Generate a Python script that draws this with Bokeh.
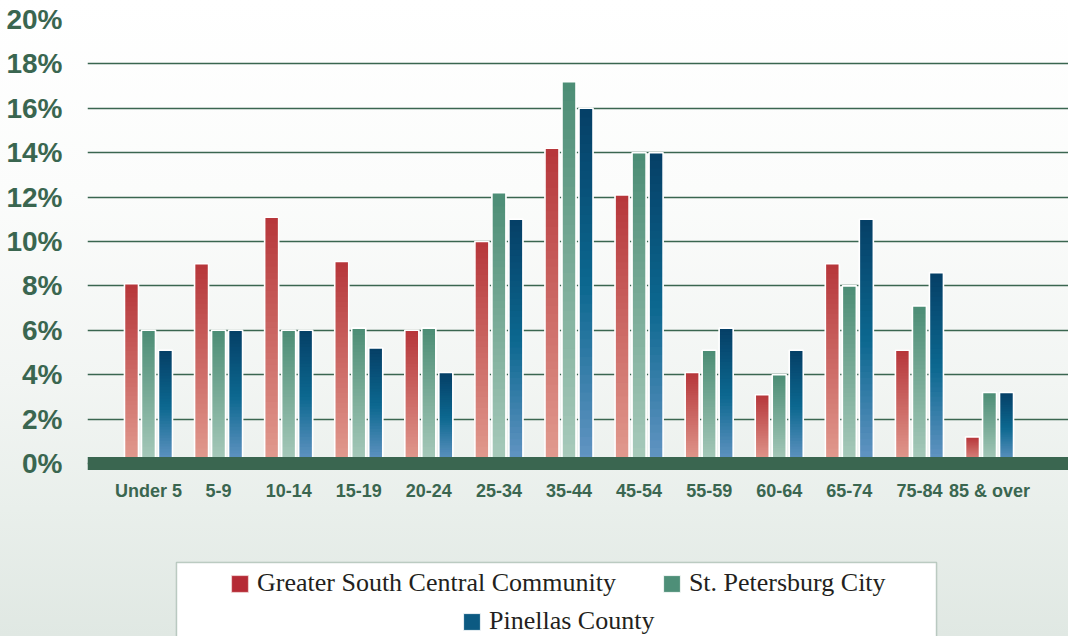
import numpy as np
from bokeh.plotting import figure
from bokeh.models import (Range1d, FixedTicker, PrintfTickFormatter, Legend,
                          LegendItem, BoxAnnotation, ColumnDataSource)
from bokeh.embed import file_html
from bokeh.resources import INLINE

# ---------------- data ----------------
categories = ["Under 5", "5-9", "10-14", "15-19", "20-24", "25-34", "35-44",
              "45-54", "55-59", "60-64", "65-74", "75-84", "85 & over"]
greater_south_central = [8.1, 9.0, 11.1, 9.1, 6.0, 10.0, 14.2, 12.1, 4.1, 3.1, 9.0, 5.1, 1.2]
st_petersburg_city = [6.0, 6.0, 6.0, 6.1, 6.1, 12.2, 17.2, 14.0, 5.1, 4.0, 8.0, 7.1, 3.2]
pinellas_county = [5.1, 6.0, 6.0, 5.2, 4.1, 11.0, 16.0, 14.0, 6.1, 5.1, 11.0, 8.6, 3.2]
series_names = ["Greater South Central Community", "St. Petersburg City", "Pinellas County"]
y_ticks = [0, 2, 4, 6, 8, 10, 12, 14, 16, 18, 20]

# ---------------- styles ----------------
GREEN_DARK = "#3a6650"
legend_colors = ["#b52a35", "#4e8f78", "#0c5a82"]
gradients = [
    [(0.0, "#e29c90"), (1.0, "#b6363a")],
    [(0.0, "#a9cbbc"), (1.0, "#4c8d75")],
    [(0.0, "#6596c4"), (0.5, "#0c6890"), (1.0, "#053f66")],
]
offsets = [-0.2426, 0.0, 0.2426]
bar_w = 0.2
N_SLICES = 40


def hex2rgb(h):
    h = h.lstrip("#")
    return np.array([int(h[i:i + 2], 16) for i in (0, 2, 4)], dtype=float)


def interp_color(stops, t):
    for (t0, c0), (t1, c1) in zip(stops[:-1], stops[1:]):
        if t <= t1:
            f = (t - t0) / (t1 - t0) if t1 > t0 else 0
            c = hex2rgb(c0) * (1 - f) + hex2rgb(c1) * f
            return "#%02x%02x%02x" % tuple(int(round(v)) for v in c)
    return stops[-1][1]


p = figure(width=1068, height=636,
           x_range=Range1d(-0.87, 13.127), y_range=Range1d(-7.793, 20),
           output_backend="svg", toolbar_location=None,
           min_border_left=87, min_border_right=0,
           min_border_top=19, min_border_bottom=0)
p.background_fill_alpha = 0
p.border_fill_alpha = 0
p.outline_line_color = None
p.styles = {"background": "linear-gradient(to bottom, #ffffff 0%, #fbfcfb 30%, #f2f5f3 60%, #e9efeb 80%, #e0e8e3 100%)"}

# grid
p.xgrid.visible = False
p.ygrid.ticker = FixedTicker(ticks=y_ticks)
p.ygrid.grid_line_color = "#3a6650"
p.ygrid.grid_line_width = 1.7

# y axis
p.yaxis.ticker = FixedTicker(ticks=y_ticks)
p.yaxis.formatter = PrintfTickFormatter(format="%d%%")
p.yaxis.axis_line_color = None
p.yaxis.major_tick_line_color = None
p.yaxis.minor_tick_line_color = None
p.yaxis.major_label_standoff = 19
p.yaxis.major_label_text_font = "Liberation Sans"
p.yaxis.major_label_text_font_style = "bold"
p.yaxis.major_label_text_font_size = "28px"
p.yaxis.major_label_text_color = GREEN_DARK

# x axis (thick band at 0)
p.xaxis.fixed_location = 0
p.xaxis.ticker = FixedTicker(ticks=list(range(len(categories))))
p.xaxis.major_label_overrides = {i: c for i, c in enumerate(categories)}
p.xaxis.axis_line_width = 13
p.xaxis.axis_line_color = GREEN_DARK
p.xaxis.major_tick_line_color = None
p.xaxis.minor_tick_line_color = None
p.xaxis.major_label_standoff = 12
p.xaxis.major_label_text_font = "Liberation Sans"
p.xaxis.major_label_text_font_style = "bold"
p.xaxis.major_label_text_font_size = "18px"
p.xaxis.major_label_text_color = GREEN_DARK

all_series = [greater_south_central, st_petersburg_city, pinellas_county]
idx = np.arange(len(categories))

base_renderers = []
for s, vals in enumerate(all_series):
    xs = idx + offsets[s]
    src = ColumnDataSource(dict(x=xs, top=vals))
    r = p.vbar(x="x", top="top", bottom=0, width=bar_w, source=src,
               fill_color=legend_colors[s], line_color="#f3d9d9" if s == 0 else "white",
               line_width=0.8)
    base_renderers.append(r)

    sx, sb, st, sc = [], [], [], []
    for i, v in enumerate(vals):
        for k in range(N_SLICES):
            b = v * k / N_SLICES
            t = v * (k + 1) / N_SLICES
            if k < N_SLICES - 1:
                t += v * 0.5 / N_SLICES
            sx.append(idx[i] + offsets[s])
            sb.append(b)
            st.append(t)
            sc.append(interp_color(gradients[s], (k + 0.5) / N_SLICES))
    p.vbar(x=sx, bottom=sb, top=st, width=bar_w, fill_color=sc, line_color=None)

    p.vbar(x="x", top="top", bottom=0, width=bar_w, source=src,
           fill_alpha=0, line_color="white", line_width=1.6)

# legend box (screen units)
box = BoxAnnotation(left=89, right=849, top=74, bottom=-10,
                    left_units="screen", right_units="screen",
                    top_units="screen", bottom_units="screen",
                    fill_color="white", fill_alpha=1,
                    line_color=GREEN_DARK, line_width=1.5)
p.add_layout(box)

common = dict(glyph_width=21, glyph_height=21, label_text_font="Liberation Serif",
              label_text_font_size="26px", label_text_color="#231f20",
              label_standoff=7, spacing=45, padding=0, margin=0,
              border_line_color=None, background_fill_alpha=0,
              orientation="horizontal")
leg1 = Legend(items=[LegendItem(label=series_names[0], renderers=[base_renderers[0]]),
                     LegendItem(label=series_names[1], renderers=[base_renderers[1]])],
              location=(142, 38), **common)
leg2 = Legend(items=[LegendItem(label=series_names[2], renderers=[base_renderers[2]])],
              location=(374, 0), **common)
p.add_layout(leg1)
p.add_layout(leg2)

open("out.html", "w").write(file_html(p, INLINE))
